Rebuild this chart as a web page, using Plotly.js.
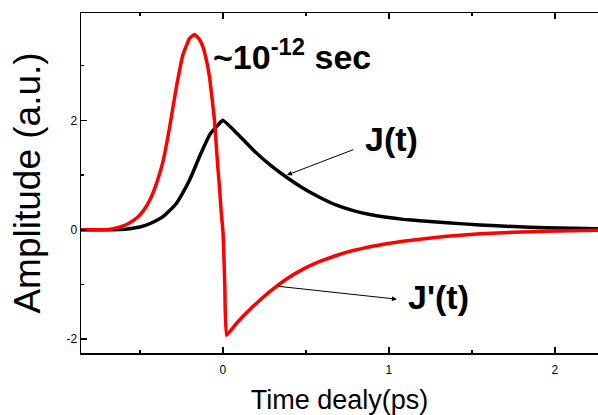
<!DOCTYPE html>
<html><head><meta charset="utf-8">
<script src="https://cdn.plot.ly/plotly-3.0.1.min.js"></script>
<style>html,body{margin:0;padding:0;background:#fff}</style>
</head><body><div id="chart" style="width:598px;height:415px"></div>
<script>
// J(t)
var tJ = [-0.854, -0.72, -0.62, -0.56, -0.5, -0.44, -0.4, -0.36, -0.32, -0.28, -0.24, -0.2, -0.17, -0.14, -0.11, -0.08, -0.04, 0.0, 0.083, 0.183, 0.283, 0.384, 0.484, 0.585, 0.685, 0.786, 0.886, 0.987, 1.087, 1.187, 1.35, 1.55, 1.75, 1.95, 2.26];
var J  = [0.0, 0.0, 0.005, 0.02, 0.05, 0.11, 0.17, 0.24, 0.35, 0.48, 0.68, 0.91, 1.12, 1.34, 1.54, 1.73, 1.88, 2.0, 1.77, 1.46, 1.19, 0.96, 0.76, 0.59, 0.45, 0.35, 0.28, 0.23, 0.19, 0.165, 0.128, 0.088, 0.058, 0.038, 0.018];
// J'(t)
var tD = [-0.854, -0.72, -0.66, -0.6, -0.56, -0.52, -0.48, -0.44, -0.4, -0.36, -0.32, -0.28, -0.24, -0.2, -0.17, -0.145, -0.12, -0.1, -0.08, -0.05, -0.03, -0.02, -0.01, 0.002, 0.012, 0.022, 0.083, 0.183, 0.283, 0.384, 0.484, 0.585, 0.685, 0.786, 0.886, 0.987, 1.087, 1.187, 1.35, 1.55, 1.75, 1.95, 2.26];
var D  = [0.0, 0.0, 0.02, 0.07, 0.13, 0.21, 0.34, 0.54, 0.84, 1.25, 1.88, 2.6, 3.2, 3.5, 3.57, 3.5, 3.35, 3.12, 2.8, 2.0, 1.15, 0.79, 0.35, -0.07, -1.0, -1.93, -1.71, -1.4, -1.13, -0.9, -0.72, -0.58, -0.47, -0.38, -0.31, -0.255, -0.21, -0.175, -0.12, -0.075, -0.045, -0.025, -0.01];
var xTicks = [0, 1, 2];
var yTicks = [-2, 0, 2];

var FONT = 'Arial, "Liberation Sans", sans-serif';
var data = [
  {x: tJ, y: J, mode: 'lines', line: {color: '#000000', width: 3.5, shape: 'spline', smoothing: 0.3}, showlegend: false, hoverinfo: 'skip'},
  {x: tD, y: D, mode: 'lines', line: {color: '#ff0000', width: 3.5, shape: 'spline', smoothing: 0.3}, showlegend: false, hoverinfo: 'skip'}
];
var layout = {
  width: 598, height: 415,
  margin: {l: 81, r: 0, t: 13, b: 62},
  paper_bgcolor: '#fff', plot_bgcolor: '#fff',
  font: {family: FONT, color: '#000'},
  xaxis: {
    range: [-0.854, 2.26], tickmode: 'array', tickvals: xTicks, ticktext: xTicks.map(String),
    ticks: 'inside', ticklen: 6, tickwidth: 1.5, tickcolor: '#000',
    minor: {dtick: 0.5, tick0: 0, ticks: 'inside', ticklen: 3, tickwidth: 1.5, tickcolor: '#000'},
    showline: true, linewidth: 1.5, linecolor: '#000', mirror: 'ticks',
    showgrid: false, zeroline: false, ticklabelstandoff: 5,
    tickfont: {size: 12, family: FONT},
    title: {text: 'Time dealy(ps)', font: {size: 27, family: FONT}, standoff: 18}
  },
  yaxis: {
    range: [-2.253, 3.963], tickmode: 'array', tickvals: yTicks, ticktext: yTicks.map(String),
    ticks: 'inside', ticklen: 6, tickwidth: 1.5, tickcolor: '#000',
    minor: {dtick: 1, tick0: 0, ticks: 'inside', ticklen: 3, tickwidth: 1.5, tickcolor: '#000'},
    showline: true, linewidth: 1.5, linecolor: '#000',
    showgrid: false, zeroline: false,
    tickfont: {size: 12, family: FONT},
    title: {text: 'Amplitude (a.u.)', font: {size: 37, family: FONT}, standoff: 14}
  },
  annotations: [
    {x: 0.386, y: 1.0, ax: 68, ay: -26, showarrow: true, arrowhead: 2, arrowsize: 1, arrowwidth: 1, arrowcolor: '#000', text: ''},
    {x: 1.049, y: -1.269, ax: -120, ay: -13, showarrow: true, arrowhead: 2, arrowsize: 1, arrowwidth: 1, arrowcolor: '#000', text: ''},
    {x: 1.019, y: 1.66, text: '<b>J(t)</b>', showarrow: false, font: {size: 34, family: FONT}},
    {x: 1.302, y: -1.23, text: "<b>J'(t)</b>", showarrow: false, font: {size: 34, family: FONT}},
    {x: -0.07, y: 3.2, xanchor: 'left', text: '<b>~10<sup>-12</sup> sec</b>', showarrow: false, font: {size: 34, family: FONT}}
  ]
};
Plotly.newPlot('chart', data, layout, {staticPlot: true, displayModeBar: false});
</script></body></html>
